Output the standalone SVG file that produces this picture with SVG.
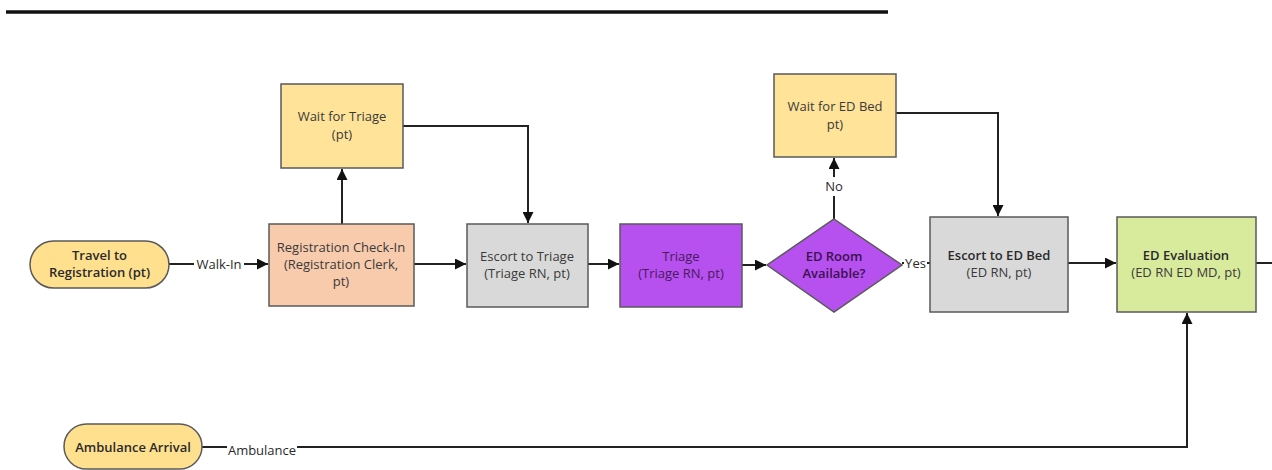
<svg xmlns="http://www.w3.org/2000/svg" width="1272" height="470" viewBox="0 0 1272 470">
<defs>
<marker id="arr" viewBox="0 0 10 10" refX="10" refY="5" markerWidth="11" markerHeight="11" markerUnits="userSpaceOnUse" orient="auto">
<path d="M0,0 L10,5 L0,10 z" fill="#111"/>
</marker>
<style>
.n{stroke:#5a5a5a;stroke-width:1.5}
.t{font-family:"Open Sans","Noto Sans",sans-serif;font-size:13px;fill:#3a3a3a;text-anchor:middle}
.b{font-weight:600;fill:#2a2a2a}
.c{fill:none;stroke:#222;stroke-width:2}
.l{font-family:"Open Sans","Noto Sans",sans-serif;font-size:13px;fill:#2a2a2a}
</style>
</defs>
<rect width="1272" height="470" fill="#fff"/>
<line x1="6" y1="12" x2="888" y2="12" stroke="#111" stroke-width="3.5"/>
<g id="connectors">
<path class="c" d="M169,264 H194"/>
<path class="c" d="M244,264 H268" marker-end="url(#arr)"/>
<path class="c" d="M342,224 V169" marker-end="url(#arr)"/>
<path class="c" d="M403,126 H528 V223" marker-end="url(#arr)"/>
<path class="c" d="M414,264 H466" marker-end="url(#arr)"/>
<path class="c" d="M588,264 H619" marker-end="url(#arr)"/>
<path class="c" d="M742,265 H766" marker-end="url(#arr)"/>
<path class="c" d="M834,219 V196"/>
<path class="c" d="M834,177 V158" marker-end="url(#arr)"/>
<path class="c" d="M896,113 H998 V216" marker-end="url(#arr)"/>
<path class="c" d="M902,263 H904"/>
<path class="c" d="M927,263 H930"/>
<path class="c" d="M1068,263 H1116" marker-end="url(#arr)"/>
<path class="c" d="M1256,263 H1272"/>
<path class="c" d="M202,447 H227"/>
<path class="c" d="M297,447 H1187 V313" marker-end="url(#arr)"/>
<text class="l" x="219" y="268.5" text-anchor="middle">Walk-In</text>
<text class="l" x="834" y="191" text-anchor="middle">No</text>
<text class="l" x="915.5" y="267.5" text-anchor="middle">Yes</text>
<text class="l" x="262" y="455" text-anchor="middle">Ambulance</text>
</g>
<g id="travel">
<rect class="n" x="30" y="241" width="139" height="47" rx="23.5" fill="#FFE08F"/>
<text class="t b" x="99.5" y="260">Travel to</text>
<text class="t b" x="99.5" y="277">Registration (pt)</text>
</g>
<g id="registration">
<rect class="n" x="269" y="224" width="145" height="82" fill="#F8CBAD"/>
<text class="t" x="341" y="252">Registration Check-In</text>
<text class="t" x="341" y="269">(Registration Clerk,</text>
<text class="t" x="341" y="286">pt)</text>
</g>
<g id="waitTriage">
<rect class="n" x="281" y="84" width="122" height="84" fill="#FFE399"/>
<text class="t" x="342" y="121">Wait for Triage</text>
<text class="t" x="342" y="139">(pt)</text>
</g>
<g id="escortTriage">
<rect class="n" x="467" y="224" width="121" height="83" fill="#D9D9D9"/>
<text class="t" x="527" y="261">Escort to Triage</text>
<text class="t" x="527" y="278">(Triage RN, pt)</text>
</g>
<g id="triage">
<rect class="n" x="620" y="224" width="122" height="83" fill="#B650EE"/>
<text class="t" x="681" y="261" style="fill:#4a1a5e">Triage</text>
<text class="t" x="681" y="278" style="fill:#4a1a5e">(Triage RN, pt)</text>
</g>
<g id="decision">
<path class="n" d="M834,219 L902,265 L834,312 L767,265 z" fill="#B650EE"/>
<text class="t b" x="834" y="261" style="fill:#3a1250">ED Room</text>
<text class="t b" x="834" y="278" style="fill:#3a1250">Available?</text>
</g>
<g id="waitBed">
<rect class="n" x="774" y="74" width="122" height="83" fill="#FFE399"/>
<text class="t" x="835" y="111">Wait for ED Bed</text>
<text class="t" x="835" y="129">pt)</text>
</g>
<g id="escortBed">
<rect class="n" x="930" y="217" width="138" height="95" fill="#D9D9D9"/>
<text class="t b" x="999" y="260">Escort to ED Bed</text>
<text class="t" x="999" y="277">(ED RN, pt)</text>
</g>
<g id="evaluation">
<rect class="n" x="1117" y="217" width="139" height="95" fill="#D8EA9C"/>
<text class="t b" x="1186" y="260">ED Evaluation</text>
<text class="t" x="1186" y="277">(ED RN ED MD, pt)</text>
</g>
<g id="ambulance">
<rect class="n" x="64" y="424" width="138" height="45" rx="22.5" fill="#FFE08F"/>
<text class="t b" x="133" y="451.5">Ambulance Arrival</text>
</g>
</svg>
